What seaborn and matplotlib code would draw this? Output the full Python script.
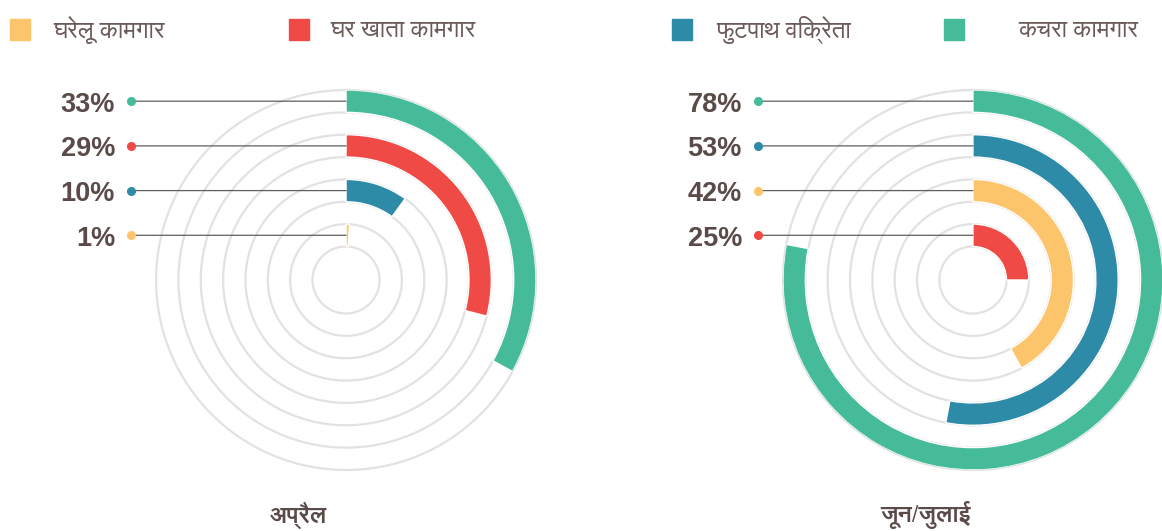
import numpy as np
import matplotlib
matplotlib.use('Agg')
import matplotlib.pyplot as plt
import matplotlib.transforms as mtransforms
from matplotlib.patches import Rectangle
from matplotlib import font_manager
from matplotlib.ft2font import FT2Font
import seaborn as sns

# data
categories = ['घरेलू कामगार', 'घर खाता कामगार', 'फुटपाथ विक्रेता', 'कचरा कामगार']
cat_colors = ['#fdc56b', '#ef4a45', '#2e8ba8', '#45bb9a']
periods = ['अप्रैल', 'जून/जुलाई']
april = [1, 29, 10, 33]
june_july = [42, 25, 53, 78]

sns.set_theme(style='white')


def find_devanagari():
    # families that cover Devanagari, preferring one with a bold face
    found = {}
    for f in font_manager.fontManager.ttflist:
        try:
            if ord('क') in FT2Font(f.fname).get_charmap():
                found.setdefault(f.name, set()).add(f.weight)
        except Exception:
            pass
    if not found:
        return None
    for name, weights in found.items():
        if any(w in (600, 700, 800, 'bold', 'semibold') for w in weights):
            return name
    return next(iter(found))


deva = find_devanagari()
fam = ([deva] if deva else []) + ['Liberation Sans', 'DejaVu Sans']
plt.rcParams['font.family'] = fam

TEXT = '#5a4a48'
GRID = '#e2e2e2'

fig = plt.figure(figsize=(11.62, 5.31), dpi=100)


def radial_chart(left, values, title, title_x):
    ax = fig.add_axes([left, 0.1149, 0.327, 0.7156], projection='polar')
    ax.set_theta_zero_location('N')
    ax.set_theta_direction(-1)
    ax.set_ylim(0, 8.5)
    ax.grid(False)
    ax.set_xticks([])
    ax.set_yticks([])
    ax.spines['polar'].set_visible(False)
    ax.set_facecolor('none')

    theta = np.linspace(0, 2 * np.pi, 400)
    for r in np.arange(1.5, 8.6, 1.0):
        ax.plot(theta, np.full_like(theta, r), color=GRID, lw=1.6,
                clip_on=False, zorder=1)

    order = np.argsort(values)
    centers = 2.0 + 2.0 * np.arange(len(values))
    vals = np.array(values)[order]
    cols = [cat_colors[i] for i in order]
    ax.barh(centers, np.deg2rad(vals * 3.6), left=0, height=1.0,
            color=cols, align='center', zorder=3)

    dot_tr = ax.transData + mtransforms.ScaledTranslation(-2.15, 0, fig.dpi_scale_trans)
    txt_tr = ax.transData + mtransforms.ScaledTranslation(-2.31, -0.035, fig.dpi_scale_trans)
    for rc, v, c in zip(centers, vals, cols):
        ax.annotate('', xy=(0, rc), xytext=(-2.15 * 72, 0), textcoords='offset points',
                    arrowprops=dict(arrowstyle='-', color='#5f5f5f', lw=0.9,
                                    shrinkA=0, shrinkB=0), annotation_clip=False, zorder=4)
        ax.plot([0], [rc], 'o', color=c, ms=5.5, transform=dot_tr, clip_on=False, zorder=5)
        ax.text(0, rc, f'{v}%', transform=txt_tr, ha='right', va='center',
                fontsize=19.5, fontweight='bold', color=TEXT,
                family=['Liberation Sans', 'DejaVu Sans'])

    fig.text(title_x, 0.03, title, ha='center', va='center', fontsize=17,
             fontweight='bold', color=TEXT)
    return ax


radial_chart(0.1343, april, periods[0], 298 / 1162)
radial_chart(0.6738, june_july, periods[1], 925 / 1162)

# legend row
sq_x = [10, 289, 672, 944]
txt_x = [53, 330, 716, 1018]
for name, c, sx, tx in zip(categories, cat_colors, sq_x, txt_x):
    fig.add_artist(Rectangle((sx / 1162, 1 - 40 / 531), 20 / 1162, 21 / 531,
                             transform=fig.transFigure, color=c))
    fig.text(tx / 1162, 1 - 30 / 531, name, ha='left', va='center',
             fontsize=17.5, color='#6a5a58')

fig.savefig('out.png', dpi=100, facecolor='white')
